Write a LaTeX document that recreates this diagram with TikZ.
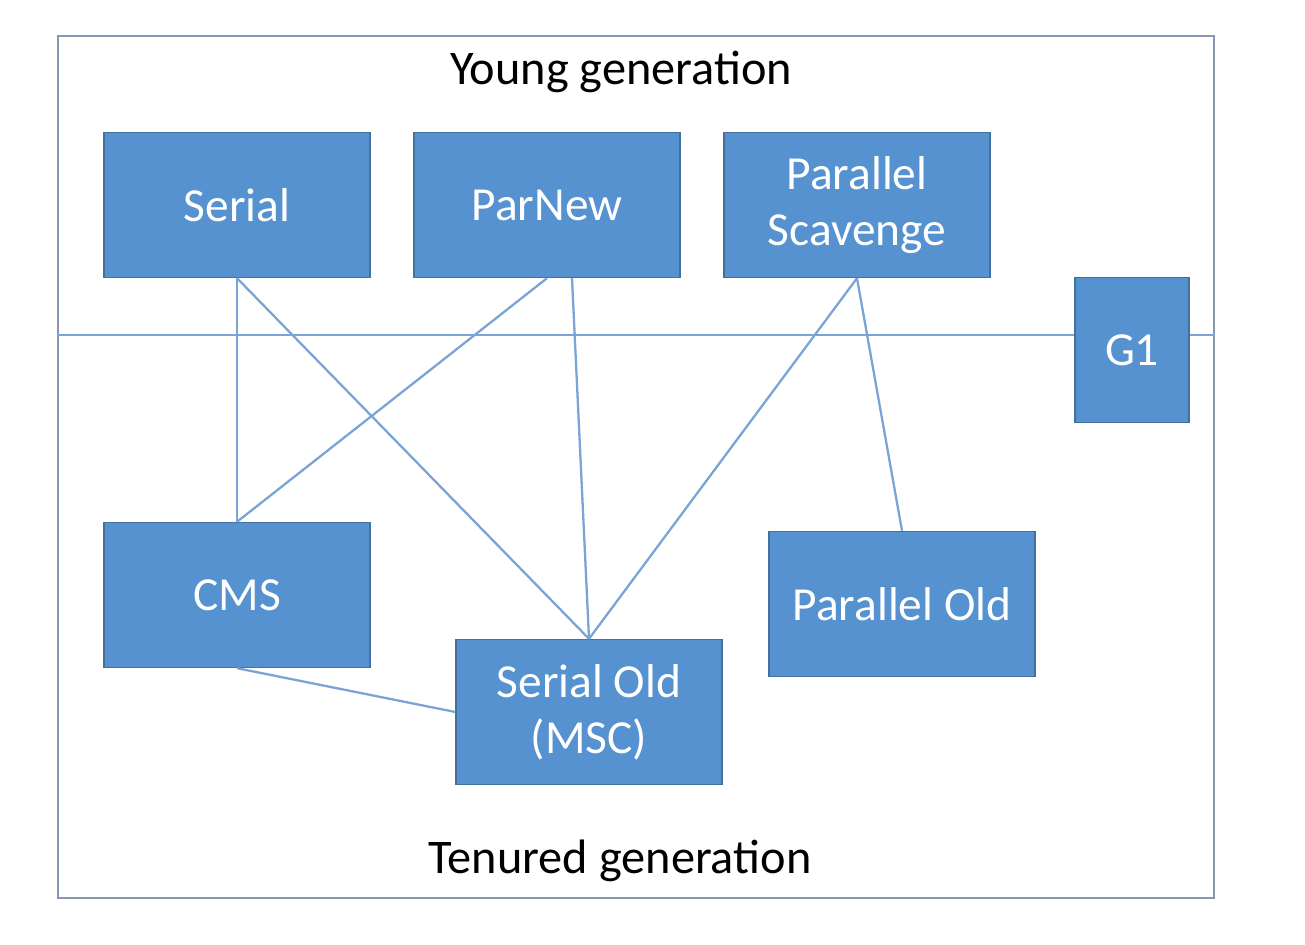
\documentclass[tikz,border=0pt]{standalone}
\usepackage{fontspec}
\setmainfont{Carlito}
\usetikzlibrary{positioning}

\definecolor{gcfill}{RGB}{86,146,208}
\definecolor{gcedge}{RGB}{65,113,156}
\definecolor{gcline}{RGB}{122,164,214}
\definecolor{gcframe}{RGB}{132,152,178}

\begin{document}
\begin{tikzpicture}[
  x=0.02cm, y=-0.02cm,
  box/.style={
    draw=gcedge,
    line width=0.8pt,
    fill=gcfill,
    text=white,
    align=center,
    font=\fontsize{27}{32}\selectfont,
    minimum width=5.32cm,
    minimum height=2.9cm,
    inner sep=0pt
  },
  small/.style={box, minimum width=2.28cm},
  title/.style={font=\fontsize{27.5}{32}\selectfont, text=black},
  line/.style={draw=gcline, line width=1.3pt}
]
\useasboundingbox (0,0) rectangle (1305,945);
\draw[gcframe, line width=1.2pt] (58,36) rectangle (1214,898);

\node[title] (young) at (621,72) {Young generation};
\node[title] (tenured) at (620,861) {Tenured generation};

\coordinate (divl) at (58,335);
\coordinate (divr) at (1214,335);
\draw[line] (divl) -- (divr);

\node[box] (serial) at (237,205) {Serial};
\node[box] (parnew) at (547,205) {ParNew};
\node[box] (scavenge) at (857,205) {Parallel\\Scavenge};
\node[small] (g1) at (1132,350) {G1};

\node[box] (cms) at (237,595) {CMS};
\node[box] (serialold) at (589,712) {Serial Old\\(MSC)};
\node[box] (parold) at (902,604) {Parallel Old};

\draw[line] (serial.south) -- (cms.north);
\draw[line] (serial.south) -- (serialold.north);
\draw[line] (parnew.south) -- (cms.north);
\draw[line] ([xshift=0.5cm]parnew.south) -- (serialold.north);
\draw[line] (scavenge.south) -- (serialold.north);
\draw[line] (scavenge.south) -- (parold.north);
\draw[line] (cms.south) -- (serialold.west);
\end{tikzpicture}
\end{document}
